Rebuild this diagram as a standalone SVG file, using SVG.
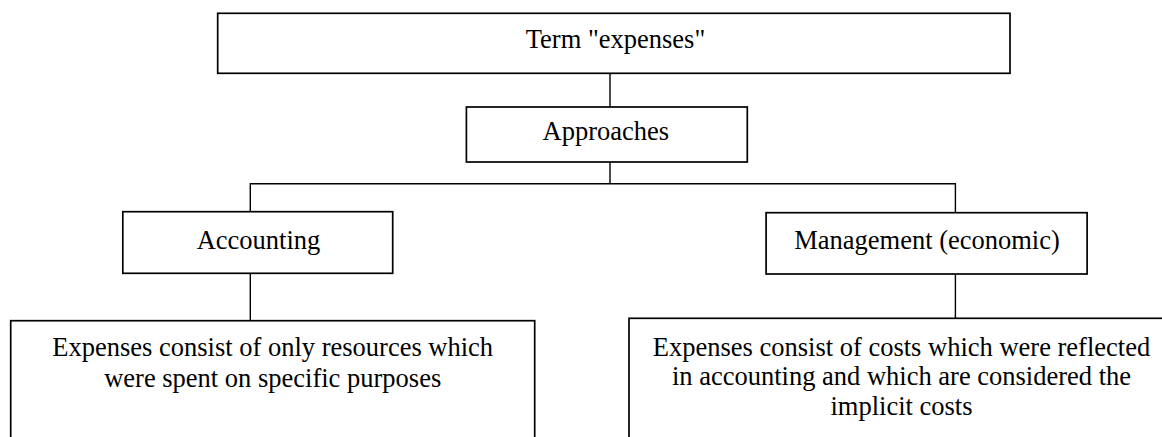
<svg xmlns="http://www.w3.org/2000/svg" width="1162" height="437" viewBox="0 0 1162 437">
<style>
.box{fill:#fff;stroke:#000;stroke-width:1.7}
.ln{fill:none;stroke:#000;stroke-width:1.4}
text{font-family:"Liberation Serif","Times New Roman",serif;font-size:26.5px;fill:#000;text-anchor:middle}
</style>
<rect width="1162" height="437" fill="#fff"/>
<g id="connectors">
<line class="ln" x1="610" y1="73.3" x2="610" y2="107"/>
<polyline class="ln" points="610,162 610,183.7"/>
<polyline class="ln" points="250.3,211.7 250.3,183.7 955.4,183.7 955.4,212.7"/>
<line class="ln" x1="250.3" y1="273.3" x2="250.3" y2="320.7"/>
<line class="ln" x1="955.4" y1="274" x2="955.4" y2="318.3"/>
</g>
<g id="term">
<rect class="box" x="217.7" y="13.3" width="792.3" height="60"/>
<text x="615.5" y="48.3">Term "expenses"</text>
</g>
<g id="approaches">
<rect class="box" x="466.4" y="107" width="280.9" height="55"/>
<text x="605.8" y="140">Approaches</text>
</g>
<g id="accounting">
<rect class="box" x="122.8" y="211.7" width="269.9" height="61.6"/>
<text x="258.5" y="248.5">Accounting</text>
</g>
<g id="management">
<rect class="box" x="766.1" y="212.7" width="321" height="61.3"/>
<text x="927" y="248.5">Management (economic)</text>
</g>
<g id="accounting-def">
<rect class="box" x="10.7" y="320.7" width="524" height="140"/>
<text x="272.7" y="356">Expenses consist of only resources which</text>
<text x="272.7" y="387">were spent on specific purposes</text>
</g>
<g id="management-def">
<rect class="box" x="629" y="318.3" width="545" height="140"/>
<text x="901.5" y="355.5">Expenses consist of costs which were reflected</text>
<text x="901.5" y="385">in accounting and which are considered the</text>
<text x="901.5" y="414.5">implicit costs</text>
</g>
</svg>
